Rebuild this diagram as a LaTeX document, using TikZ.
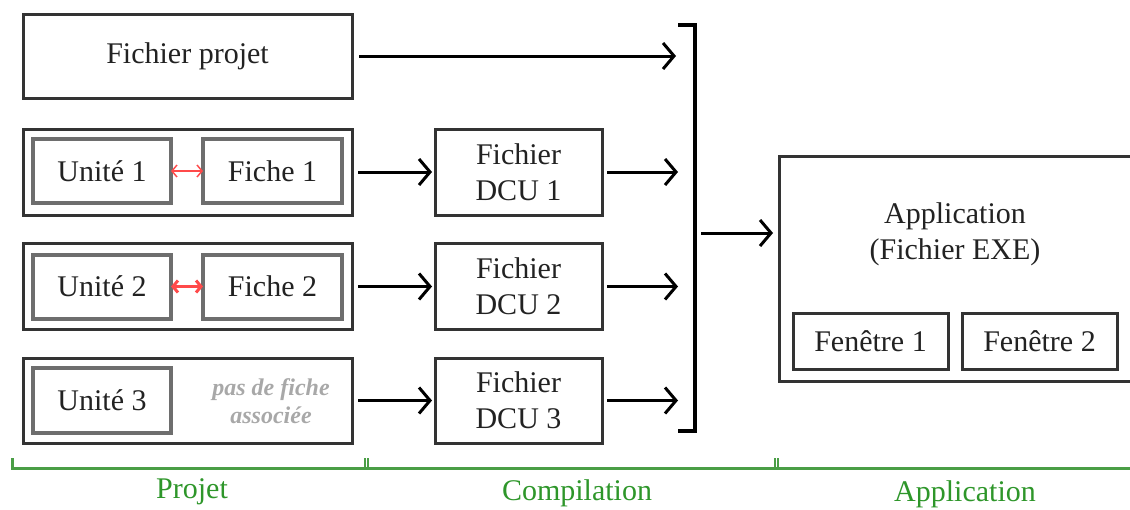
\documentclass[tikz,border=0pt]{standalone}
\usepackage{fontspec}
\setmainfont{Liberation Serif}
\usetikzlibrary{arrows.meta}
\definecolor{dk}{HTML}{333333}
\definecolor{gr}{HTML}{6E6E6E}
\definecolor{txt}{HTML}{222222}
\definecolor{grn}{HTML}{4A9E46}
\definecolor{grntxt}{HTML}{2E962A}
\definecolor{rd}{HTML}{FF4A4A}
\definecolor{pale}{HTML}{A8A8A8}
\tikzset{
  every node/.style={inner sep=0pt, outer sep=0pt, text=txt, font=\fontsize{30}{36}\selectfont},
  outerbox/.style={draw=dk, line width=3pt, minimum width=329pt, minimum height=86pt},
  innerbox/.style={draw=gr, line width=4pt, minimum width=138pt, minimum height=64pt},
  dcubox/.style={draw=dk, line width=3pt, minimum width=167pt, minimum height=86pt, align=center},
  winbox/.style={draw=dk, line width=3pt, minimum width=155pt, minimum height=56pt},
  arr/.style={draw=black, line width=3pt, -{Straight Barb[length=11pt,width=26pt,line width=3pt]}},
  redarr/.style={draw=rd, {Straight Barb[length=5pt,width=12pt]}-{Straight Barb[length=5pt,width=12pt]}},
  grnline/.style={draw=grn, line width=3pt},
  grnlabel/.style={text=grntxt, font=\fontsize{30}{36}\selectfont},
}
\begin{document}
\begin{tikzpicture}[x=1pt,y=-1pt]
\useasboundingbox (0,0) rectangle (1130,509);
% Project file
\node[outerbox, minimum height=84pt] (fp) at (187.5,56) {Fichier projet};
% rows
\node[outerbox] (r1) at (187.5,172) {};
\node[outerbox] (r2) at (187.5,286.5) {};
\node[outerbox, minimum height=85pt] (r3) at (187.5,400.5) {};
\node[innerbox] (u1) at (102,171) {Unité 1};
\node[innerbox, minimum width=139pt] (f1) at (272.5,171) {Fiche 1};
\node[innerbox] (u2) at (102,286.5) {Unité 2};
\node[innerbox, minimum width=139pt] (f2) at (272.5,286.5) {Fiche 2};
\node[innerbox, minimum height=65pt] (u3) at (102,400.5) {Unité 3};
\node[text=pale, align=center, font=\fontsize{24}{28}\selectfont\bfseries\itshape] (nf) at (271,401) {pas de fiche\\associée};
\draw[redarr, line width=1.5pt] (u1.east) -- (f1.west);
\draw[redarr, line width=3pt] (u2.east) -- (f2.west);
% DCU
\node[dcubox] (d1) at (518.5,172) {Fichier\\DCU 1};
\node[dcubox] (d2) at (518.5,286.5) {Fichier\\DCU 2};
\node[dcubox, minimum height=85pt] (d3) at (518.5,400.5) {Fichier\\DCU 3};
\draw[arr, shorten <=6pt, shorten >=3pt] (r1.east) -- (d1.west);
\draw[arr, shorten <=6pt, shorten >=3pt] (r2.east) -- (d2.west);
\draw[arr, shorten <=6pt, shorten >=3pt] (r3.east) -- (d3.west);
% bracket
\coordinate (bt) at (695,25);
\coordinate (bb) at (695,431);
\draw[black, line width=4pt] (678,25) -- (bt) -- (bb) -- (678,431);
\draw[arr, shorten <=7pt, shorten >=19pt] (fp.east) -- (fp.east -| bt);
\draw[arr, shorten <=5pt, shorten >=17pt] (d1.east) -- (d1.east -| bt);
\draw[arr, shorten <=5pt, shorten >=17pt] (d2.east) -- (d2.east -| bt);
\draw[arr, shorten <=5pt, shorten >=17pt] (d3.east) -- (d3.east -| bt);
% application
\node[draw=dk, line width=3pt, minimum width=360pt, minimum height=225pt, anchor=north west] (app) at (779,156) {};
\node[align=center] (apptxt) at (955,234) {Application\\(Fichier EXE)};
\coordinate (bm) at (695,233);
\draw[arr, shorten <=6pt, shorten >=6pt] (bm) -- (bm -| app.west);
\node[winbox] (w1) at (870.5,341) {Fenêtre 1};
\node[winbox] (w2) at (1039.5,341) {Fenêtre 2};
% bottom green
\draw[grnline] (12,458) -- (12,468) -- (1135,468);
\draw[grnline, line width=2pt] (365,458) -- (365,468) (368,458) -- (368,468);
\draw[grnline, line width=2pt] (775,458) -- (775,468) (778,458) -- (778,468);
\node[grnlabel] (lp) at (192,492) {Projet};
\node[grnlabel] (lc) at (577,493) {Compilation};
\node[grnlabel] (la) at (965,494) {Application};
\end{tikzpicture}
\end{document}
